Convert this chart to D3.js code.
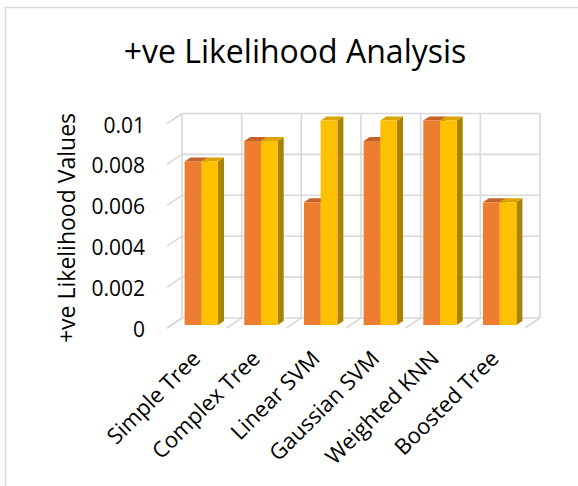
<!DOCTYPE html>
<html>
<head>
<meta charset="utf-8">
<script src="https://cdn.jsdelivr.net/npm/d3@7"></script>
<style>
  html, body { margin: 0; padding: 0; background: #fff; }
  svg { display: block; }
  text { font-family: "Open Sans", "Noto Sans", sans-serif; fill: #000; }
</style>
</head>
<body>
<svg id="chart" width="578" height="486"></svg>
<script>
// Classifiers along the category axis
const categories = ["Simple Tree", "Complex Tree", "Linear SVM", "Gaussian SVM", "Weighted KNN", "Boosted Tree"];
// Two value series per classifier
const seriesNames = ["Series 1", "Series 2"];
const series1 = [0.008, 0.009, 0.006, 0.009, 0.01, 0.006];
const series2 = [0.008, 0.009, 0.01, 0.01, 0.01, 0.006];
const yTicks = [0, 0.002, 0.004, 0.006, 0.008, 0.01];
const yTickLabels = ["0", "0.002", "0.004", "0.006", "0.008", "0.01"];

const palette = [
  { front: "#ED7D31", top: "#C4622A", side: "#A9531F" },
  { front: "#FFC000", top: "#DBA400", side: "#A98200" }
];

const svg = d3.select("#chart");

// Chart frame (right and bottom edges fall outside the view)
svg.append("rect")
  .attr("x", 5.5).attr("y", 7.5)
  .attr("width", 640).attr("height", 480)
  .attr("fill", "#fff").attr("stroke", "#d9d9d9").attr("stroke-width", 1.5);

// Back wall plane, plus an oblique depth vector for the 3D look
const wallLeft = 182, wallRight = 540;
const depth = [-15, 10];

const x = d3.scaleBand().domain(categories).range([wallLeft, wallRight])
  .paddingInner(0.44).paddingOuter(0.22);
const xs = d3.scaleBand().domain(seriesNames).range([0, x.bandwidth()]);
const y = d3.scaleLinear().domain([0, 0.01]).range([318, 113.5]);

// Project a point on the back plane to a given depth fraction (0 = back, 1 = front)
const P = (px, py, f) => [px + depth[0] * f, py + depth[1] * f];

const grid = svg.append("g").attr("stroke", "#d9d9d9").attr("stroke-width", 1.6).attr("fill", "none");

// Horizontal gridlines on the back wall and matching lines on the side wall
yTicks.forEach(t => {
  const yy = y(t);
  grid.append("line").attr("x1", wallLeft).attr("x2", wallRight).attr("y1", yy).attr("y2", yy);
  const a = P(wallLeft, yy, 0), b = P(wallLeft, yy, 1);
  grid.append("line").attr("x1", a[0]).attr("y1", a[1]).attr("x2", b[0]).attr("y2", b[1]);
});

// Vertical category dividers on the back wall and diagonal lines across the floor
const boundaries = categories.map(c => x(c) - x.step() * x.paddingInner() / 2);
boundaries.push(wallRight);
boundaries[0] = wallLeft;
boundaries.forEach(bx => {
  grid.append("line").attr("x1", bx).attr("x2", bx).attr("y1", y(0.01)).attr("y2", y(0));
  const a = P(bx, y(0), 0), b = P(bx, y(0), 1);
  grid.append("line").attr("x1", a[0]).attr("y1", a[1]).attr("x2", b[0]).attr("y2", b[1]);
});

// Bars: front face at 70% depth, back at 30%
const fFront = 0.7, fBack = 0.3;
const pts = arr => arr.map(p => p.join(",")).join(" ");
const barsG = svg.append("g");
const allSeries = [series1, series2];

categories.forEach((cat, i) => {
  allSeries.forEach((vals, s) => {
    const v = vals[i];
    const x0 = x(cat) + xs(seriesNames[s]);
    const x1 = x0 + xs.bandwidth();
    const yT = y(v), yB = y(0);
    const c = palette[s];
    const fTL = P(x0, yT, fFront), fTR = P(x1, yT, fFront), fBR = P(x1, yB, fFront);
    const bTL = P(x0, yT, fBack), bTR = P(x1, yT, fBack), bBR = P(x1, yB, fBack);
    const g = barsG.append("g").attr("class", "bar");
    // right side face
    g.append("polygon").attr("points", pts([fTR, bTR, bBR, fBR])).attr("fill", c.side);
    // top face
    g.append("polygon").attr("points", pts([fTL, bTL, bTR, fTR])).attr("fill", c.top);
    // front face
    g.append("rect").attr("x", fTL[0]).attr("y", fTL[1])
      .attr("width", x1 - x0).attr("height", yB - yT).attr("fill", c.front);
  });
});

// Value axis labels on the front plane
const yl = svg.append("g");
yTicks.forEach((t, i) => {
  const p = P(wallLeft, y(t), 1);
  yl.append("text")
    .attr("x", 145).attr("y", p[1] + 9)
    .attr("text-anchor", "end")
    .attr("font-size", 21)
    .text(yTickLabels[i]);
});

// Category labels, rotated
categories.forEach(cat => {
  const cx = x(cat) + x.bandwidth() / 2 + depth[0];
  svg.append("text")
    .attr("transform", `translate(${cx + 5},${360}) rotate(-45)`)
    .attr("text-anchor", "end")
    .attr("font-size", 22)
    .text(cat);
});

// Axis title
svg.append("text")
  .attr("transform", `translate(75,228) rotate(-90)`)
  .attr("text-anchor", "middle")
  .attr("font-size", 23)
  .text("+ve Likelihood Values");

// Chart title
svg.append("text")
  .attr("x", 295).attr("y", 63)
  .attr("text-anchor", "middle")
  .attr("font-size", 32)
  .text("+ve Likelihood Analysis");
</script>
</body>
</html>
